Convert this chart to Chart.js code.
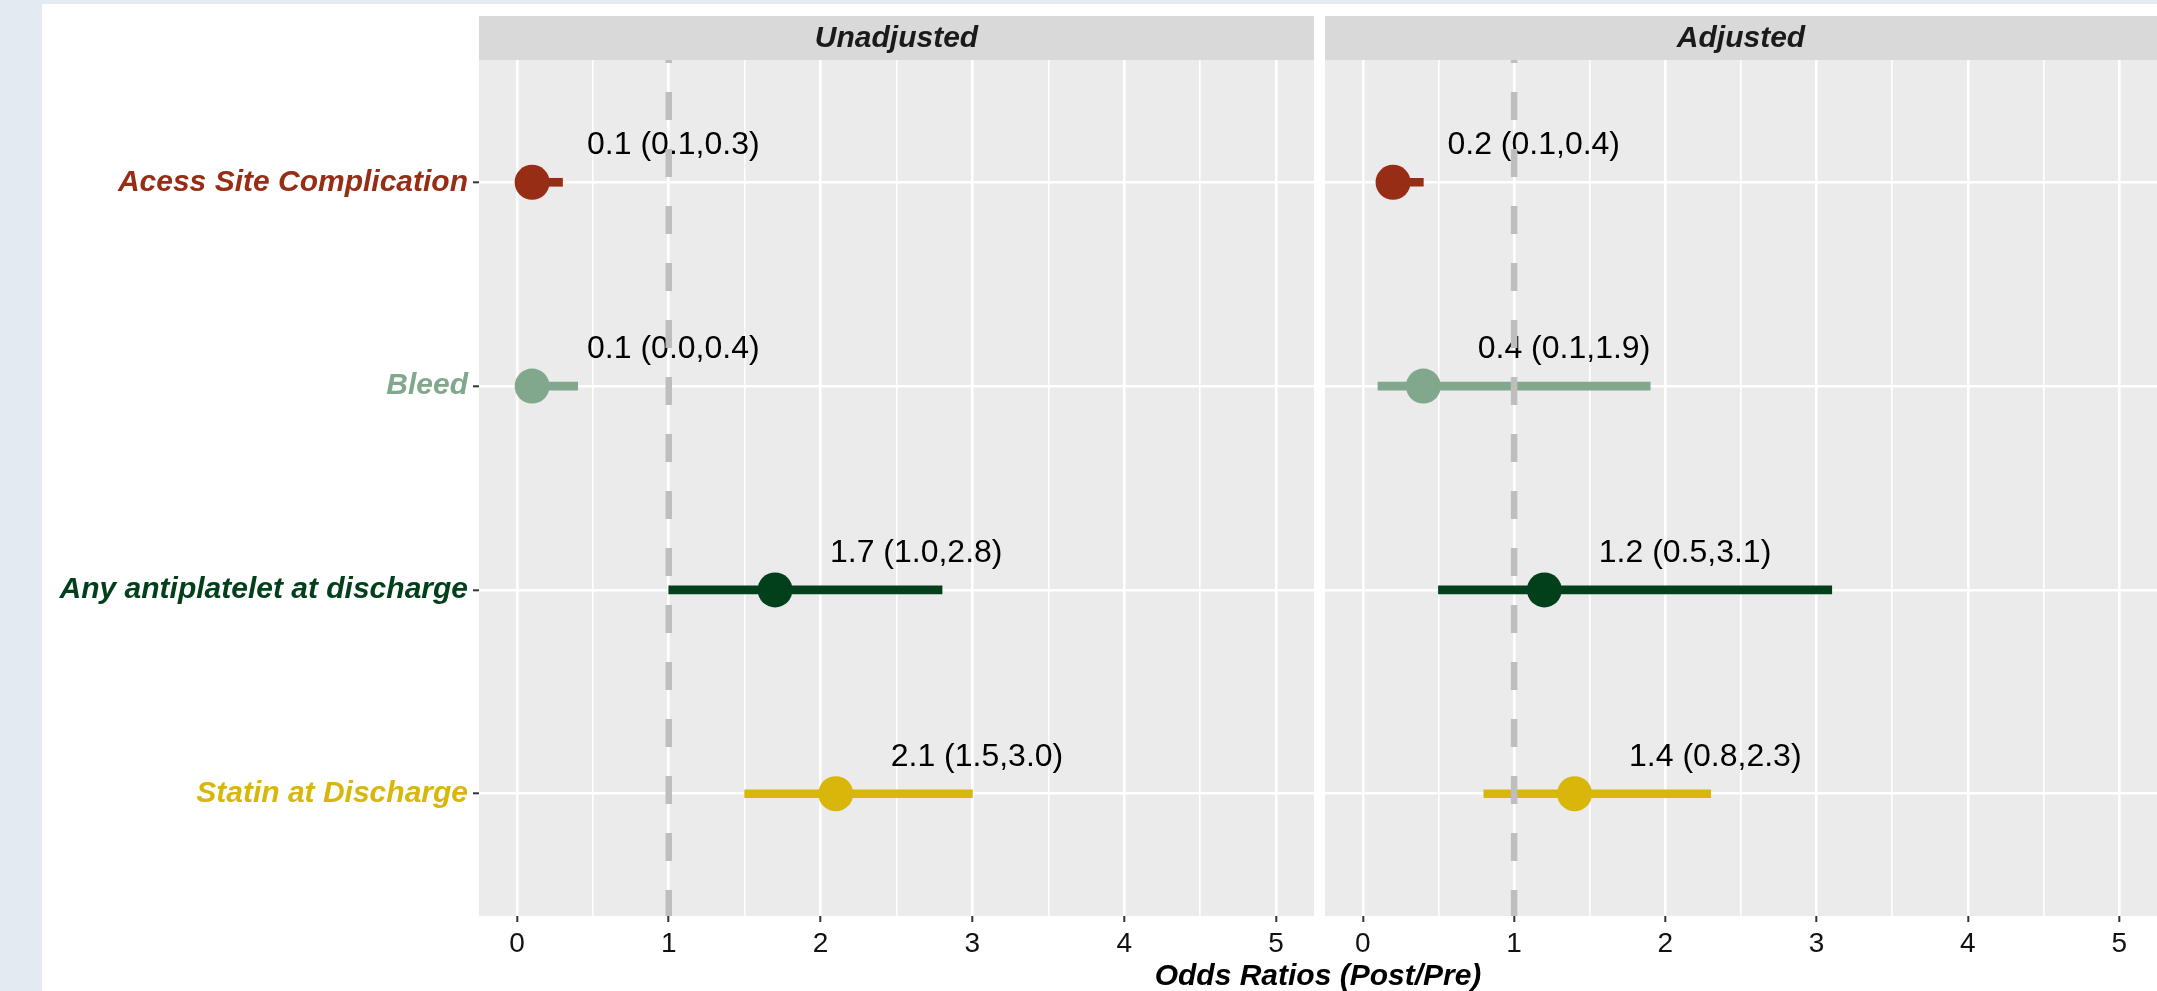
<!DOCTYPE html>
<html>
<head>
<meta charset="utf-8">
<script src="https://cdn.jsdelivr.net/npm/chart.js@4.4.0/dist/chart.umd.min.js"></script>
<style>
  body { margin: 0; width: 2157px; height: 991px; overflow: hidden; position: relative; background: #e3eaf2; }
  #sheet { position: absolute; left: 42px; top: 4px; right: 0; bottom: 0; background: #fff; }
  canvas { position: absolute; top: 4px; }
  #unadj { left: 42px; }
  #adj { left: 1325px; }
  #xtitle { position: absolute; left: 479px; width: 1678px; top: 958px; line-height: 30px; text-align: center;
            font: italic bold 30px 'Liberation Sans', Arial, sans-serif; color: #000; }
</style>
</head>
<body>
<div id="sheet"></div>
<canvas id="unadj" width="1272" height="987"></canvas>
<canvas id="adj" width="832" height="987"></canvas>
<div id="xtitle">Odds Ratios (Post/Pre)</div>
<script>
// DATA
const outcomes = ['Acess Site Complication', 'Bleed', 'Any antiplatelet at discharge', 'Statin at Discharge'];
const outcomeColors = ['#972D15', '#81A88D', '#02401B', '#D8B70A'];

const unadjustedOR = [0.1, 0.1, 1.7, 2.1];
const unadjustedLow = [0.1, 0.0, 1.0, 1.5];
const unadjustedHigh = [0.3, 0.4, 2.8, 3.0];

const adjustedOR = [0.2, 0.4, 1.2, 1.4];
const adjustedLow = [0.1, 0.1, 0.5, 0.8];
const adjustedHigh = [0.4, 1.9, 3.1, 2.3];

const xTicks = [0, 1, 2, 3, 4, 5];
const refValue = 1;

const FONT = "'Liberation Sans', Arial, sans-serif";

// major ticks plus the minor half steps for the grid
const xGrid = [];
xTicks.forEach((t, i) => {
	xGrid.push(t);
	if (i < xTicks.length - 1) xGrid.push((t + xTicks[i + 1]) / 2);
});
const isMajor = v => xTicks.includes(v);

// panel background, strip, labels and the dashed line at OR = 1
const panelDecor = {
	id: 'panelDecor',
	beforeDraw(chart, args, opts) {
		const {ctx, chartArea: a} = chart;
		ctx.save();
		ctx.fillStyle = '#EBEBEB';
		ctx.fillRect(a.left, a.top, a.right - a.left, a.bottom - a.top);
		ctx.fillStyle = '#D9D9D9';
		ctx.fillRect(a.left, a.top - 44, a.right - a.left, 44);
		ctx.fillStyle = '#1A1A1A';
		ctx.font = 'italic bold 30px ' + FONT;
		ctx.textAlign = 'center';
		ctx.textBaseline = 'middle';
		ctx.fillText(opts.title, (a.left + a.right) / 2, a.top - 21);
		ctx.restore();
	},
	afterDatasetsDraw(chart, args, opts) {
		const {ctx, chartArea: a, scales} = chart;
		ctx.save();
		ctx.fillStyle = '#000';
		ctx.font = '32px ' + FONT;
		ctx.textAlign = 'center';
		ctx.textBaseline = 'middle';
		opts.est.forEach((v, i) => {
			const txt = `${v.toFixed(1)} (${opts.low[i].toFixed(1)},${opts.high[i].toFixed(1)})`;
			ctx.fillText(txt, scales.x.getPixelForValue(v + 0.93), scales.y.getPixelForValue(i - 0.18));
		});
		const xr = scales.x.getPixelForValue(refValue);
		ctx.strokeStyle = '#BEBEBE';
		ctx.lineWidth = 6.5;
		ctx.setLineDash([28, 29]);
		ctx.lineDashOffset = 25;
		ctx.beginPath();
		ctx.moveTo(xr, a.top);
		ctx.lineTo(xr, a.bottom);
		ctx.stroke();
		ctx.restore();
	}
};

function drawPanel(id, title, est, low, high, showLabels) {
	const ctx = document.getElementById(id).getContext('2d');
	return new Chart(ctx, {
		type: 'bar',
		data: {
			datasets: [{
				type: 'scatter',
				data: est.map((v, i) => ({x: v, y: i})),
				pointRadius: 17.5,
				pointHoverRadius: 17.5,
				pointBackgroundColor: outcomeColors,
				pointBorderWidth: 0,
				order: 0
			}, {
				type: 'bar',
				data: low.map((v, i) => ({x: [v, high[i]], y: i})),
				backgroundColor: outcomeColors,
				barThickness: 8,
				borderWidth: 0,
				order: 1
			}]
		},
		options: {
			indexAxis: 'y',
			responsive: false,
			animation: false,
			events: [],
			layout: {autoPadding: false, padding: {top: 56, left: 0, right: 0, bottom: 0}},
			plugins: {
				legend: {display: false},
				tooltip: {enabled: false},
				panelDecor: {title: title, est: est, low: low, high: high}
			},
			scales: {
				x: {
					type: 'linear',
					min: -0.25,
					max: 5.25,
					offset: false,
					afterBuildTicks: axis => { axis.ticks = xGrid.map(v => ({value: v})); },
					afterFit: axis => { axis.height = 75; },
					border: {display: false},
					grid: {
						offset: false,
						color: '#FFFFFF',
						lineWidth: c => isMajor(c.tick.value) ? 2.6 : 1.6,
						tickColor: c => isMajor(c.tick.value) ? '#333333' : 'rgba(0,0,0,0)',
						tickWidth: 2,
						tickLength: 6
					},
					ticks: {
						callback: v => isMajor(v) ? String(v) : '',
						color: '#111111',
						font: {family: FONT, size: 28},
						padding: 5,
						autoSkip: false,
						maxRotation: 0
					}
				},
				y: {
					type: 'linear',
					min: -0.6,
					max: 3.6,
					reverse: true,
					offset: false,
					afterBuildTicks: axis => { axis.ticks = outcomes.map((o, i) => ({value: i})); },
					afterFit: axis => { axis.width = showLabels ? 437 : 0; },
					border: {display: false},
					grid: {
						offset: false,
						color: '#FFFFFF',
						lineWidth: 2.6,
						drawTicks: showLabels,
						tickColor: '#333333',
						tickWidth: 2,
						tickLength: 6
					},
					ticks: {
						display: showLabels,
						callback: v => outcomes[v],
						color: c => outcomeColors[c.tick.value],
						font: {family: FONT, size: 30, style: 'italic', weight: 'bold'},
						padding: 5,
						autoSkip: false
					}
				}
			}
		},
		plugins: [panelDecor]
	});
}

drawPanel('unadj', 'Unadjusted', unadjustedOR, unadjustedLow, unadjustedHigh, true);
drawPanel('adj', 'Adjusted', adjustedOR, adjustedLow, adjustedHigh, false);
</script>
</body>
</html>
